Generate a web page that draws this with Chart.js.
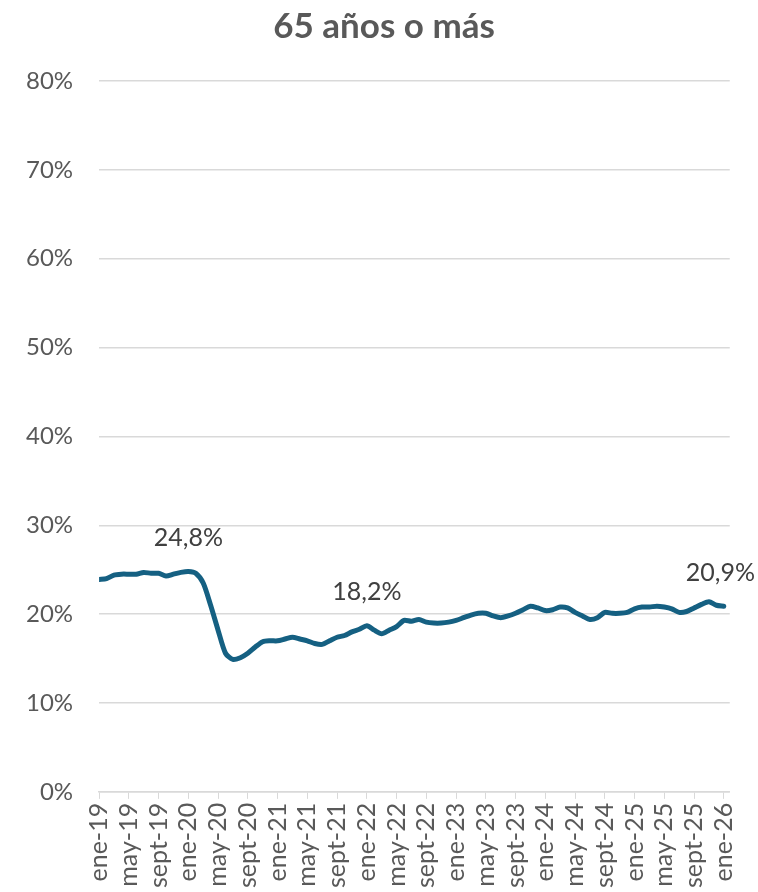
<!DOCTYPE html>
<html>
<head>
<meta charset="utf-8">
<script src="https://cdn.jsdelivr.net/npm/chart.js@4/dist/chart.umd.min.js"></script>
<style>
  html, body { margin: 0; padding: 0; background: #fff; overflow: hidden; }
  #wrap { width: 758px; height: 892px; position: relative; }
</style>
</head>
<body>
<div id="wrap"><canvas id="chart"></canvas></div>
<script>
const chartTitle = '65 años o más';

const monthNames = ['ene', 'feb', 'mar', 'abr', 'may', 'jun', 'jul', 'ago', 'sept', 'oct', 'nov', 'dic'];
const years = ['19', '20', '21', '22', '23', '24', '25', '26'];

// ene-19 .. ene-26, monthly share (%)
const shareValues = [
  23.9, 24.0, 24.4, 24.5, 24.5, 24.5, 24.7, 24.6, 24.6, 24.3, 24.5, 24.7,
  24.8, 24.6, 23.5, 21.0, 18.2, 15.6, 14.9, 15.1, 15.6, 16.3, 16.9, 17.0,
  17.0, 17.2, 17.4, 17.2, 17.0, 16.7, 16.6, 17.0, 17.4, 17.6, 18.0, 18.3,
  18.7, 18.2, 17.8, 18.2, 18.6, 19.3, 19.2, 19.4, 19.1, 19.0, 19.0, 19.1,
  19.3, 19.6, 19.9, 20.1, 20.1, 19.8, 19.6, 19.8, 20.1, 20.5, 20.9, 20.7,
  20.4, 20.5, 20.8, 20.7, 20.2, 19.8, 19.4, 19.6, 20.2, 20.1, 20.1, 20.2,
  20.6, 20.8, 20.8, 20.9, 20.8, 20.6, 20.2, 20.3, 20.7, 21.1, 21.4, 21.0,
  20.9
];

const monthLabels = shareValues.map((v, i) => monthNames[i % 12] + '-' + years[Math.floor(i / 12)]);

// annotated points
const noteIndex = [12, 36, 84];
const noteText = ['24,8%', '18,2%', '20,9%'];

const yTicks = [0, 10, 20, 30, 40, 50, 60, 70, 80];

const fontFamily = 'Lato, "Open Sans", sans-serif';

// title drawn centred on the whole canvas, like the spreadsheet chart
const titlePlugin = {
  id: 'titlePlugin',
  afterDraw(chart) {
    const ctx = chart.ctx;
    ctx.save();
    ctx.font = 'bold 35px ' + fontFamily;
    ctx.fillStyle = '#595959';
    ctx.textAlign = 'center';
    ctx.textBaseline = 'alphabetic';
    ctx.fillText(chartTitle, chart.width / 2 + 5, 38);
    ctx.restore();
  }
};

const noteLabels = {
  id: 'noteLabels',
  afterDatasetsDraw(chart) {
    const ctx = chart.ctx;
    const meta = chart.getDatasetMeta(0);
    ctx.save();
    ctx.font = '25px ' + fontFamily;
    ctx.fillStyle = '#404040';
    ctx.textAlign = 'center';
    ctx.textBaseline = 'bottom';
    noteIndex.forEach((idx, k) => {
      const pt = meta.data[idx];
      const w = ctx.measureText(noteText[k]).width;
      const x = Math.min(pt.x, chart.width - 3 - w / 2);
      ctx.fillText(noteText[k], x, pt.y - 21);
    });
    ctx.restore();
  }
};

const ctx = document.getElementById('chart').getContext('2d');
new Chart(ctx, {
  type: 'line',
  data: {
    datasets: [{
      label: chartTitle,
      data: shareValues.map((v, i) => ({ x: i, y: v })),
      borderColor: '#156082',
      backgroundColor: '#156082',
      borderWidth: 5,
      pointRadius: 0,
      tension: 0.25,
      borderCapStyle: 'round',
      borderJoinStyle: 'round'
    }]
  },
  options: {
    responsive: true,
    maintainAspectRatio: false,
    animation: false,
    layout: { padding: { left: 0, right: 21, top: 81, bottom: 0 } },
    scales: {
      x: {
        type: 'linear',
        min: 0,
        max: 84.8,
        afterBuildTicks: axis => {
          axis.ticks = monthLabels.map((l, i) => ({ value: i })).filter(t => t.value % 4 === 0);
        },
        grid: {
          drawOnChartArea: false,
          drawTicks: true,
          tickLength: 7,
          color: '#d9d9d9'
        },
        border: { display: true, color: '#d9d9d9', width: 1.5 },
        ticks: {
          autoSkip: false,
          minRotation: 90,
          maxRotation: 90,
          padding: 4,
          color: '#595959',
          font: { family: fontFamily, size: 25 },
          callback: v => monthLabels[v]
        }
      },
      y: {
        min: 0,
        max: 80,
        afterBuildTicks: axis => {
          axis.ticks = yTicks.map(v => ({ value: v }));
        },
        grid: { color: '#d9d9d9', lineWidth: 1.5, drawTicks: false },
        border: { display: false },
        ticks: {
          padding: 26,
          color: '#595959',
          font: { family: fontFamily, size: 24 },
          callback: v => v + '%'
        }
      }
    },
    plugins: {
      legend: { display: false },
      tooltip: { enabled: false },
      title: { display: false }
    }
  },
  plugins: [noteLabels, titlePlugin]
});
</script>
</body>
</html>
